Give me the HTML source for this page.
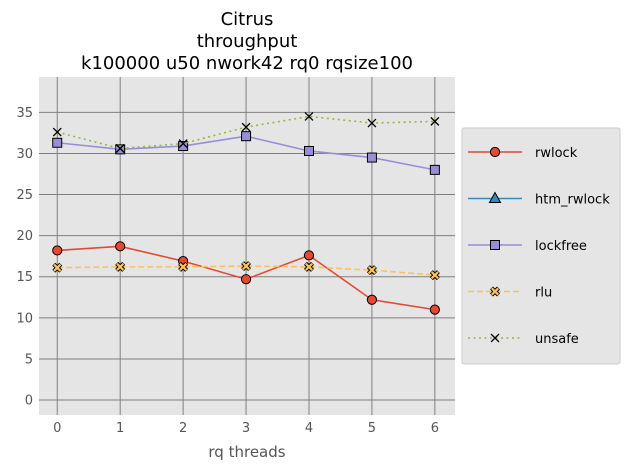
<!DOCTYPE html>
<html><head><meta charset="utf-8"><style>
body{margin:0;background:#fff;width:630px;height:470px;overflow:hidden;font-family:"DejaVu Sans","Liberation Sans",sans-serif}
</style></head><body>
<svg id="c" width="630" height="470" xmlns="http://www.w3.org/2000/svg" font-family="DejaVu Sans, Liberation Sans, sans-serif"></svg>
<script>
const categories=[0,1,2,3,4,5,6];
const rwlock=[18.2,18.7,16.9,14.7,17.6,12.2,11.0];
const htm_rwlock=[];
const lockfree=[31.3,30.5,30.9,32.1,30.3,29.5,28.0];
const rlu=[16.1,16.2,16.2,16.3,16.2,15.8,15.2];
const unsafe=[32.6,30.6,31.2,33.2,34.5,33.7,33.9];
const yTicks=[0,5,10,15,20,25,30,35];
const seriesNames=["rwlock","htm_rwlock","lockfree","rlu","unsafe"];

const NS="http://www.w3.org/2000/svg";
const svg=document.getElementById('c');
const L=39,R=455,T=77,B=415;
const xmin=-0.29,xmax=6.32,ymin=-1.82,ymax=39.3;
const X=v=>L+(v-xmin)/(xmax-xmin)*(R-L);
const Y=v=>B-(v-ymin)/(ymax-ymin)*(B-T);
function el(t,a,p){const e=document.createElementNS(NS,t);for(const k in a)e.setAttribute(k,a[k]);(p||svg).appendChild(e);return e;}
let bg=el('rect',{x:L,y:T,width:R-L,height:B-T,fill:'#e5e5e5'});


categories.forEach(c=>{
 let g=el('line',{x1:X(c),x2:X(c),y1:T,y2:B,stroke:'#808080','stroke-width':1});
 
 
 let t=el('text',{x:X(c),y:B+17,'text-anchor':'middle','font-size':13,fill:'#555'});t.textContent=c;
 
 
});
yTicks.forEach(v=>{
 let g=el('line',{x1:L,x2:R,y1:Y(v),y2:Y(v),stroke:'#808080','stroke-width':1});
 
 
 let t=el('text',{x:L-6,y:Y(v)+4.5,'text-anchor':'end','font-size':13,fill:'#555'});t.textContent=v;
 
 
});
const styles={
 rwlock:{c:'#e24a33',d:'',m:'o',mf:'#e24a33'},
 htm_rwlock:{c:'#348abd',d:'',m:'^',mf:'#348abd'},
 lockfree:{c:'#988ed5',d:'',m:'s',mf:'#988ed5'},
 rlu:{c:'#fbc15e',d:'6,3',m:'X',mf:'#fbc15e'},
 unsafe:{c:'#8eba42',d:'2,3.5',m:'x',mf:'#000'}
};
function marker(m,x,y,fill,p){
 let e;
 if(m==='o')e=el('circle',{cx:x,cy:y,r:4.6,fill:fill,stroke:'#000','stroke-width':1},p);
 else if(m==='s')e=el('rect',{x:x-4.5,y:y-4.5,width:9,height:9,fill:fill,stroke:'#000','stroke-width':1},p);
 else if(m==='^')e=el('polygon',{points:`${x},${y-6} ${x-5.5},${y+4} ${x+5.5},${y+4}`,fill:fill,stroke:'#000','stroke-width':1},p);
 else if(m==='X'){e=el('path',{d:`M${x-3.5},${y-3.5}L${x+3.5},${y+3.5}M${x+3.5},${y-3.5}L${x-3.5},${y+3.5}`,stroke:'#000','stroke-width':4.2},p);el('path',{d:`M${x-3.2},${y-3.2}L${x+3.2},${y+3.2}M${x+3.2},${y-3.2}L${x-3.2},${y+3.2}`,stroke:fill,'stroke-width':2.3},p);}
 else e=el('path',{d:`M${x-4},${y-4}L${x+4},${y+4}M${x+4},${y-4}L${x-4},${y+4}`,stroke:'#000','stroke-width':1.3},p);
 return e;
}
const data={rwlock,htm_rwlock,lockfree,rlu,unsafe};
seriesNames.forEach(n=>{
 const s=styles[n],vals=data[n];
 const g=el('g',{});
 
 
 if(vals.length){
  const pts=vals.map((v,i)=>X(categories[i])+','+Y(v)).join(' ');
  el('polyline',{points:pts,fill:'none',stroke:s.c,'stroke-width':1.6,'stroke-dasharray':s.d},g);
  vals.forEach((v,i)=>{const m=marker(s.m,X(categories[i]),Y(v),s.mf,g);
   
   });
 }
});
const lg=el('g',{});


el('rect',{x:462,y:128,width:158,height:236,fill:'#e5e5e5',stroke:'#ccc','stroke-width':1,rx:2},lg);
seriesNames.forEach((n,i)=>{
 const s=styles[n],y=152+i*46.5;
 const e=el('g',{},lg);
 
 
 el('line',{x1:468,x2:522,y1:y,y2:y,stroke:s.c,'stroke-width':1.6,'stroke-dasharray':s.d},e);
 marker(s.m,495,y,s.mf,e);
 const t=el('text',{x:535,y:y+5,'font-size':13,fill:'#000'},e);t.textContent=n;
});
const title=[["Citrus",25],["throughput",47],["k100000 u50 nwork42 rq0 rqsize100",69]];
title.forEach(([s,y])=>{const t=el('text',{x:247,y:y,'text-anchor':'middle','font-size':18,fill:'#000'});t.textContent=s;
 
 });
const xl=el('text',{x:247,y:457,'text-anchor':'middle','font-size':15,fill:'#555'});xl.textContent='rq threads';


</script>
</body></html>
